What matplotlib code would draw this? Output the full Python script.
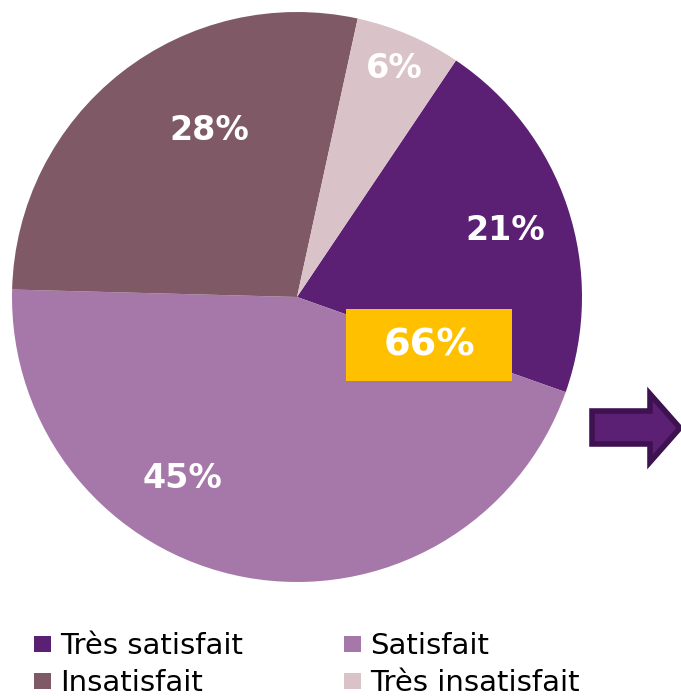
import matplotlib
matplotlib.use("Agg")
import matplotlib.pyplot as plt
from matplotlib.patches import Rectangle, Polygon

categories = ["Très satisfait", "Satisfait", "Insatisfait", "Très insatisfait"]
values = [21, 45, 28, 6]
labels = ["21%", "45%", "28%", "6%"]
colors = ["#5B1F73", "#A678AA", "#7F5A66", "#D9C3C9"]
total_label = "66%"

W, H = 681, 696
fig = plt.figure(figsize=(W / 100, H / 100), dpi=100)
ax = fig.add_axes([0, 0, 1, 1])

cx, cy, r = 297, H - 297, 285
wedges, _ = ax.pie(values, colors=colors, startangle=56.1, counterclock=False,
                   center=(cx, cy), radius=r, frame=True,
                   wedgeprops=dict(linewidth=0))
ax.set_xlim(0, W)
ax.set_ylim(0, H)
ax.set_aspect("equal")
ax.axis("off")

label_pos = [(505, 230), (182, 479), (209, 130), (394, 69)]
for (x, y), t in zip(label_pos, labels):
    ax.text(x, H - y, t, color="white", fontsize=24, fontweight="bold",
            ha="center", va="center", family="DejaVu Sans")

# 66% box
ax.add_patch(Rectangle((346, H - 381), 166, 72, facecolor="#FFC000", edgecolor="none", zorder=5))
ax.text(429, H - 345, total_label, color="white", fontsize=27.5, fontweight="bold",
        ha="center", va="center", zorder=6, family="DejaVu Sans")

# arrow
arrow = [(592, H - 411), (650, H - 411), (650, H - 394), (680, H - 428),
         (650, H - 462), (650, H - 444), (592, H - 444)]
ax.add_patch(Polygon(arrow, closed=True, facecolor="#5B1F73", edgecolor="#3E1150",
                     linewidth=4, joinstyle="miter", zorder=5))

# legend
leg_items = [(34, 654, 0), (344, 654, 1), (34, 691, 2), (344, 691, 3)]
for x, yb, i in leg_items:
    ax.add_patch(Rectangle((x, H - yb + 2), 17, 16, facecolor=colors[i], edgecolor="none"))
    ax.text(x + 26, H - yb, categories[i], fontsize=21, color="black",
            ha="left", va="baseline", family="DejaVu Sans")

fig.savefig("out.png", dpi=100)
